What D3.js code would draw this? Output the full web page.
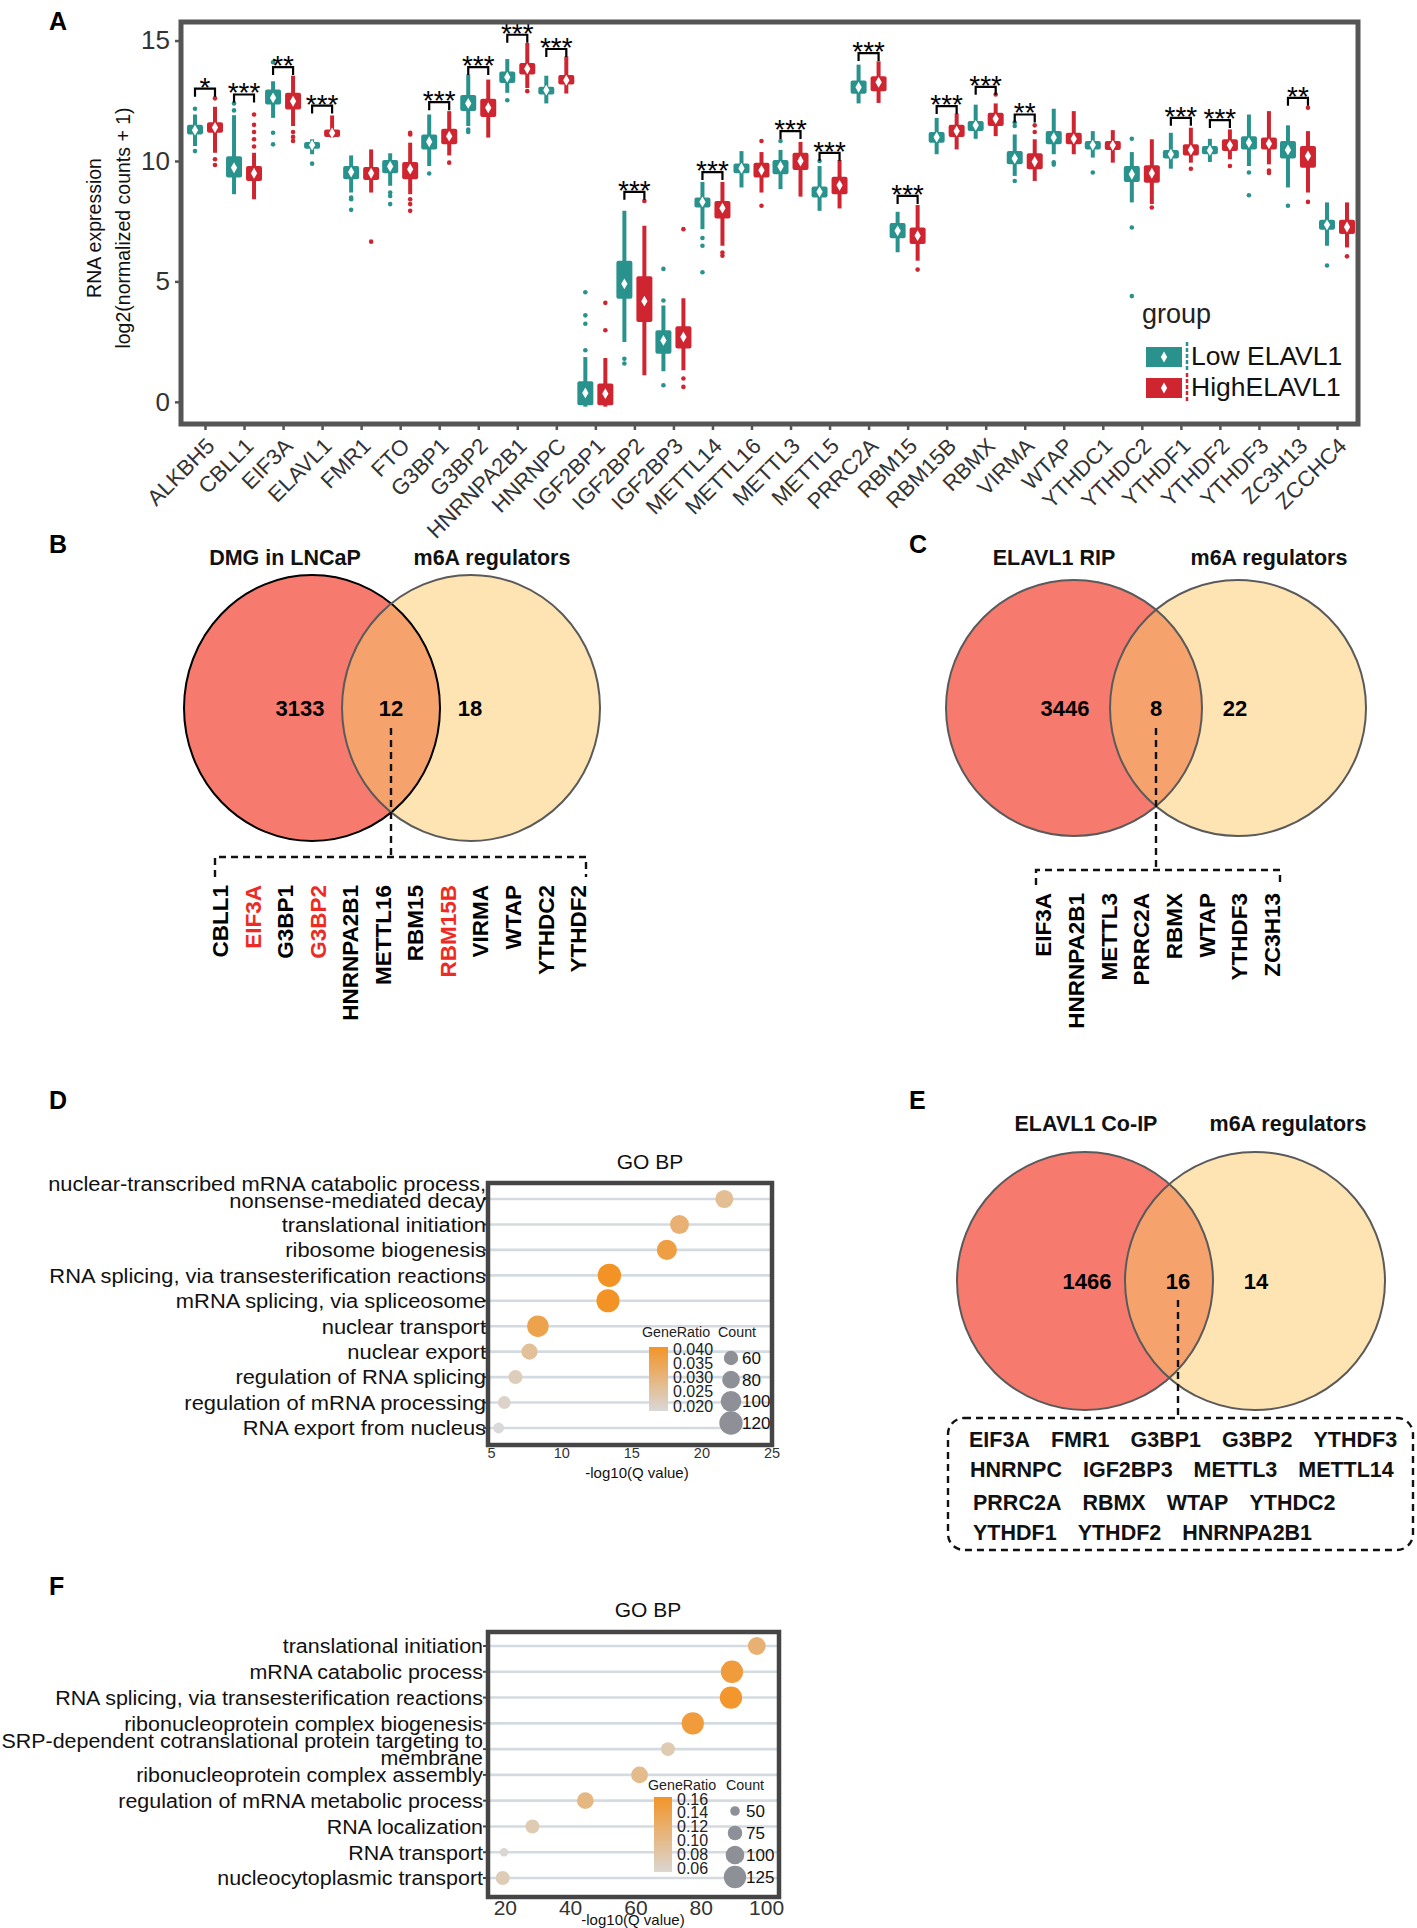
<!DOCTYPE html>
<html><head><meta charset="utf-8">
<script src="https://cdn.jsdelivr.net/npm/d3@7/dist/d3.min.js"></script>
<style>html,body{margin:0;padding:0;background:#fff}svg{display:block}</style>
</head><body>
<svg id="fig" width="1417" height="1928" xmlns="http://www.w3.org/2000/svg"></svg>
<script>
const FONT='"Liberation Sans", Arial, Helvetica, sans-serif';

// ================= Panel A data =================
const genes=["ALKBH5","CBLL1","EIF3A","ELAVL1","FMR1","FTO","G3BP1","G3BP2","HNRNPA2B1","HNRNPC","IGF2BP1","IGF2BP2","IGF2BP3","METTL14","METTL16","METTL3","METTL5","PRRC2A","RBM15","RBM15B","RBMX","VIRMA","WTAP","YTHDC1","YTHDC2","YTHDF1","YTHDF2","YTHDF3","ZC3H13","ZCCHC4"];
const groupNames=["Low ELAVL1","HighELAVL1"];
// [lower whisker, Q1, median, Q3, upper whisker]
const lowStats=[[10.62,11.10,11.28,11.50,11.93],[8.62,9.31,9.72,10.20,11.90],[11.79,12.34,12.62,12.97,13.31],[10.28,10.51,10.66,10.79,10.90],[8.69,9.24,9.54,9.79,10.23],[8.97,9.49,9.77,10.04,10.32],[9.79,10.48,10.80,11.10,11.93],[11.45,12.07,12.39,12.74,13.59],[12.83,13.24,13.48,13.72,14.23],[12.39,12.76,12.94,13.08,13.54],[-0.20,-0.14,0.37,0.86,1.86],[2.48,4.28,4.90,5.86,7.93],[1.27,2.00,2.55,2.97,4.00],[7.17,8.07,8.30,8.48,9.13],[8.90,9.49,9.70,9.90,10.41],[8.83,9.45,9.77,10.04,10.46],[7.93,8.48,8.72,8.94,9.79],[12.39,12.79,13.06,13.34,14.00],[6.21,6.79,7.10,7.42,7.89],[10.28,10.76,10.99,11.20,11.79],[10.92,11.24,11.48,11.66,12.34],[9.38,9.86,10.10,10.41,11.10],[10.28,10.69,10.97,11.24,12.17],[10.14,10.48,10.66,10.83,11.24],[8.28,9.13,9.45,9.79,10.37],[9.68,10.10,10.28,10.46,11.17],[9.96,10.28,10.44,10.62,10.92],[9.79,10.48,10.76,11.03,11.93],[8.90,10.10,10.46,10.83,11.48],[6.48,7.14,7.35,7.56,8.28]];
const highStats=[[10.34,11.17,11.39,11.61,12.25],[8.41,9.17,9.49,9.79,10.34],[11.45,12.14,12.48,12.83,13.54],[10.97,11.00,11.16,11.31,11.89],[8.69,9.21,9.49,9.75,10.48],[8.62,9.24,9.66,9.96,10.76],[10.23,10.69,11.03,11.34,12.07],[10.97,11.83,12.21,12.58,13.38],[13.03,13.59,13.83,14.07,14.90],[12.80,13.17,13.35,13.57,14.34],[-0.20,-0.14,0.34,0.76,1.82],[1.10,3.31,4.18,5.21,7.31],[1.31,2.21,2.69,3.14,4.30],[6.48,7.61,8.04,8.34,9.13],[8.69,9.31,9.61,9.93,10.37],[8.52,9.63,10.00,10.34,10.79],[8.03,8.62,8.99,9.35,10.04],[12.41,12.90,13.27,13.52,14.14],[5.86,6.55,6.90,7.24,8.17],[10.48,11.00,11.24,11.50,11.97],[11.03,11.45,11.75,12.00,12.39],[9.17,9.66,9.97,10.32,10.90],[10.28,10.69,10.92,11.17,12.07],[9.93,10.46,10.65,10.83,11.28],[8.21,9.10,9.49,9.82,10.90],[9.93,10.23,10.46,10.69,11.38],[10.07,10.41,10.65,10.90,11.31],[9.86,10.48,10.72,10.97,12.07],[8.69,9.72,10.21,10.62,11.24],[6.41,6.97,7.26,7.56,8.28]];
const lowOutliers=[[12.17,10.41],[12.1,12.39],[14.1,11.17,10.69],[9.89],[8.48,8.41,7.97],[8.69,8.55,8.21],[9.48],[11.3,11.2],[12.52],[],[2.14,3.24,3.59,4.55],[1.79,1.59],[4.21,5.52,0.69],[6.8,6.48,5.38],[],[10.83],[10.0],[],[],[],[],[11.45,11.6,9.17],[9.95,9.85],[9.52],[10.92,7.24,4.39],[],[],[9.52,8.58],[8.14],[5.66]];
const highOutliers=[[12.6,10.07,9.83],[10.6,10.9,11.2,11.5,11.93],[11.2,11.0,10.83],[],[6.65],[11.1,11.17,8.41,8.21,7.93],[9.93],[],[12.9],[],[2.97,4.11],[8.34],[7.17,0.97,0.62],[6.2,6.07],[10.83,8.14],[],[],[],[5.49],[],[12.76],[11.2,11.48],[],[],[8.07],[9.68],[9.79],[9.6,9.5],[12.21,8.3],[6.04]];
const sigLabels=["*","***","**","***","","","***","***","***","***","","***","","***","","***","***","***","***","***","***","**","","","","***","***","","**",""];
const sigLevels=[13.0,12.76,13.9,12.3,null,null,12.44,13.9,15.24,14.65,null,8.72,null,9.54,null,11.24,10.34,14.48,8.55,12.28,13.08,11.93,null,null,null,11.79,11.7,null,12.62,null];
const yTicksA=[0,5,10,15];

// ================= Venn data =================
const vennBSets=["DMG in LNCaP","m6A regulators"];
const vennBCounts=[3133,12,18];
const vennBGenes=["CBLL1","EIF3A","G3BP1","G3BP2","HNRNPA2B1","METTL16","RBM15","RBM15B","VIRMA","WTAP","YTHDC2","YTHDF2"];
const vennBHighlight=["EIF3A","G3BP2","RBM15B"];
const vennCSets=["ELAVL1 RIP","m6A regulators"];
const vennCCounts=[3446,8,22];
const vennCGenes=["EIF3A","HNRNPA2B1","METTL3","PRRC2A","RBMX","WTAP","YTHDF3","ZC3H13"];
const vennESets=["ELAVL1 Co-IP","m6A regulators"];
const vennECounts=[1466,16,14];
const vennEGeneRows=[["EIF3A","FMR1","G3BP1","G3BP2","YTHDF3"],["HNRNPC","IGF2BP3","METTL3","METTL14"],["PRRC2A","RBMX","WTAP","YTHDC2"],["YTHDF1","YTHDF2","HNRNPA2B1"]];

// ================= GO data =================
const goTermsD=["nuclear-transcribed mRNA catabolic process,\nnonsense-mediated decay","translational initiation","ribosome biogenesis","RNA splicing, via transesterification reactions","mRNA splicing, via spliceosome","nuclear transport","nuclear export","regulation of RNA splicing","regulation of mRNA processing","RNA export from nucleus"];
const goQD=[21.6,18.4,17.5,13.4,13.3,8.3,7.7,6.7,5.9,5.5];
const goRatioD=[0.027,0.031,0.037,0.041,0.041,0.036,0.026,0.022,0.020,0.018];
const goCountD=[82,88,96,120,118,106,70,58,52,42];
const ratioTicksD=[0.020,0.025,0.030,0.035,0.040];
const countTicksD=[60,80,100,120];
const xTicksD=[5,10,15,20,25];

const goTermsF=["translational initiation","mRNA catabolic process","RNA splicing, via transesterification reactions","ribonucleoprotein complex biogenesis","SRP-dependent cotranslational protein targeting to\nmembrane","ribonucleoprotein complex assembly","regulation of mRNA metabolic process","RNA localization","RNA transport","nucleocytoplasmic transport"];
const goQF=[97.0,89.4,89.1,77.4,69.8,61.1,44.5,28.3,19.6,19.2];
const goRatioF=[0.115,0.150,0.160,0.150,0.075,0.100,0.105,0.075,0.055,0.072];
const goCountF=[95,125,125,125,72,88,88,72,45,72];
const ratioTicksF=[0.06,0.08,0.10,0.12,0.14,0.16];
const countTicksF=[50,75,100,125];
const xTicksF=[20,40,60,80,100];

// =================================================
const svg=d3.select("#fig");
const defs=svg.append("defs");
function txt(g,x,y,s,size,opt={}){
  const t=g.append("text").attr("x",x).attr("y",y).text(s)
    .attr("font-family",FONT).attr("font-size",size)
    .attr("fill",opt.fill||"#000").attr("text-anchor",opt.anchor||"start")
    .attr("font-weight",opt.bold?"bold":"normal");
  return t;
}
// panel letters
[["A",49,30],["B",49,553],["C",909,553],["D",49,1109],["E",909,1109],["F",49,1595]].forEach(d=>txt(svg,d[1],d[2],d[0],25,{bold:true}));

// ================= Panel A =================
(function(){
  const L=181,R=1358,T=22,B=424;
  const y=d3.scaleLinear().domain([-0.92,15.77]).range([B,T]);
  const x=d3.scalePoint().domain(genes).range([205,1337]);
  const cols=["#2A928D","#CF2530"];
  const g=svg.append("g");
  const ya=g.append("g").attr("transform",`translate(${L},0)`).call(d3.axisLeft(y).tickValues(yTicksA).tickSize(6).tickPadding(5));
  ya.select(".domain").remove();
  ya.selectAll("line").attr("stroke","#555").attr("stroke-width",2.5);
  ya.selectAll("text").attr("font-size",26).attr("fill","#333").attr("font-family",FONT);
  const xa=g.append("g").attr("transform",`translate(0,${B})`).call(d3.axisBottom(x).tickSize(6));
  xa.select(".domain").remove();
  xa.selectAll("line").attr("stroke","#555").attr("stroke-width",2.5);
  xa.selectAll("text").attr("font-size",22).attr("fill","#333").attr("font-family",FONT)
    .attr("text-anchor","end").attr("x",0).attr("y",0).attr("dy","0.35em")
    .attr("transform","translate(5,18) rotate(-45)");
  // y title
  const yt=g.append("g").attr("transform",`translate(101,228) rotate(-90)`);
  txt(yt,0,0,"RNA expression",19.5,{anchor:"middle",fill:"#111"});
  txt(yt,0,29,"log2(normalized counts + 1)",19.5,{anchor:"middle",fill:"#111"});

  const diamond=d3.symbol().type(d3.symbolDiamond).size(34);
  const off=[-10,10];
  [lowStats,highStats].forEach((stats,gi)=>{
    const outs=gi?highOutliers:lowOutliers;
    const gg=g.append("g");
    genes.forEach((gene,i)=>{
      const s=stats[i], cx=x(gene)+off[gi];
      gg.append("line").attr("x1",cx).attr("x2",cx).attr("y1",y(s[0])).attr("y2",y(s[4]))
        .attr("stroke",cols[gi]).attr("stroke-width",4);
      gg.append("rect").attr("x",cx-8).attr("width",16).attr("y",y(s[3])).attr("height",Math.max(4,y(s[1])-y(s[3])))
        .attr("fill",cols[gi]).attr("rx",2);
      outs[i].forEach(v=>gg.append("circle").attr("cx",cx).attr("cy",y(v)).attr("r",2.3).attr("fill",cols[gi]));
      gg.append("path").attr("d",diamond).attr("transform",`translate(${cx},${y(s[2])})`).attr("fill","#fff");
    });
  });
  // significance brackets
  genes.forEach((gene,i)=>{
    if(sigLevels[i]==null) return;
    const yy=y(sigLevels[i]), x0=x(gene)+off[0], x1=x(gene)+off[1];
    g.append("path").attr("d",`M${x0},${yy+8}V${yy}H${x1}V${yy+8}`).attr("fill","none").attr("stroke","#000").attr("stroke-width",2.2);
    txt(g,x(gene),yy+8,sigLabels[i],28,{anchor:"middle"});
  });
  // frame
  g.append("rect").attr("x",L).attr("y",T).attr("width",R-L).attr("height",B-T).attr("fill","none").attr("stroke","#555").attr("stroke-width",5);
  // legend
  txt(g,1142,323,"group",27,{fill:"#222"});
  groupNames.forEach((n,i)=>{
    const ky=357+i*31;
    g.append("rect").attr("x",1146).attr("y",ky-10).attr("width",36).attr("height",20).attr("fill",cols[i]);
    g.append("line").attr("x1",1187).attr("x2",1187).attr("y1",ky-15).attr("y2",ky+15).attr("stroke",cols[i]).attr("stroke-width",2.5).attr("stroke-dasharray","4,2");
    g.append("path").attr("d",diamond).attr("transform",`translate(1164,${ky})`).attr("fill","#fff");
    txt(g,1191,ky+8,n,26.5,{fill:"#111"});
  });
})();

// ================= Venn =================
function venn(cfg){
  const g=svg.append("g");
  const [a,b]=cfg.circles;
  const cid="clip"+cfg.id;
  defs.append("clipPath").attr("id",cid).append("ellipse").attr("cx",a.cx).attr("cy",a.cy).attr("rx",a.rx).attr("ry",a.ry);
  g.append("ellipse").attr("cx",a.cx).attr("cy",a.cy).attr("rx",a.rx).attr("ry",a.ry).attr("fill","#F67B6E");
  g.append("ellipse").attr("cx",b.cx).attr("cy",b.cy).attr("rx",b.rx).attr("ry",b.ry).attr("fill","#FEE3B3");
  g.append("ellipse").attr("cx",b.cx).attr("cy",b.cy).attr("rx",b.rx).attr("ry",b.ry).attr("fill","#F6A26C").attr("clip-path",`url(#${cid})`);
  g.append("ellipse").attr("cx",a.cx).attr("cy",a.cy).attr("rx",a.rx).attr("ry",a.ry).attr("fill","none").attr("stroke",cfg.strokeA).attr("stroke-width",2);
  g.append("ellipse").attr("cx",b.cx).attr("cy",b.cy).attr("rx",b.rx).attr("ry",b.ry).attr("fill","none").attr("stroke","#5a5a5a").attr("stroke-width",2);
  cfg.countX.forEach((cx,i)=>txt(g,cx,cfg.countY+8,cfg.counts[i],22,{bold:true,anchor:"middle"}));
  cfg.titleX.forEach((tx,i)=>txt(g,tx,cfg.titleY+8,cfg.sets[i],21.5,{bold:true,anchor:"middle",fill:"#111"}));
  return g;
}
function dashed(g,d){g.append("path").attr("d",d).attr("fill","none").attr("stroke","#111").attr("stroke-width",2.4).attr("stroke-dasharray","7,5");}

// B
(function(){
  const g=venn({id:"B",circles:[{cx:312,cy:708,rx:128,ry:133},{cx:471,cy:708,rx:129,ry:133}],strokeA:"#000",
    counts:vennBCounts,countX:[300,391,470],countY:708,sets:vennBSets,titleX:[285,492],titleY:557});
  dashed(g,"M391,728V857");
  dashed(g,"M215,877V857H586V877");
  const gx=d3.scalePoint().domain(vennBGenes).range([220,578]);
  vennBGenes.forEach(n=>{
    g.append("text").attr("transform",`translate(${gx(n)},885) rotate(-90)`).attr("dy","0.36em")
      .attr("text-anchor","end").attr("font-family",FONT).attr("font-weight","bold").attr("font-size",22.5)
      .attr("fill",vennBHighlight.includes(n)?"#EE2A24":"#000").text(n);
  });
})();
// C
(function(){
  const g=venn({id:"C",circles:[{cx:1074,cy:708,rx:128,ry:128},{cx:1238,cy:708,rx:128,ry:128}],strokeA:"#5a5a5a",
    counts:vennCCounts,countX:[1065,1156,1235],countY:708,sets:vennCSets,titleX:[1054,1269],titleY:557});
  dashed(g,"M1156,728V870");
  dashed(g,"M1036,885V870H1280V885");
  const gx=d3.scalePoint().domain(vennCGenes).range([1043,1272]);
  vennCGenes.forEach(n=>{
    g.append("text").attr("transform",`translate(${gx(n)},893) rotate(-90)`).attr("dy","0.36em")
      .attr("text-anchor","end").attr("font-family",FONT).attr("font-weight","bold").attr("font-size",22.5)
      .attr("fill","#000").text(n);
  });
})();
// E
(function(){
  const g=venn({id:"E",circles:[{cx:1085,cy:1281,rx:128,ry:129},{cx:1255,cy:1281,rx:130,ry:129}],strokeA:"#5a5a5a",
    counts:vennECounts,countX:[1087,1178,1256],countY:1281,sets:vennESets,titleX:[1086,1288],titleY:1123});
  dashed(g,"M1178,1300V1418");
  g.append("rect").attr("x",948).attr("y",1418).attr("width",465).attr("height",132).attr("rx",16)
    .attr("fill","none").attr("stroke","#111").attr("stroke-width",2.4).attr("stroke-dasharray","7,5");
  const rowY=[1447,1477,1510,1540], rowX=[969,970,973,973];
  vennEGeneRows.forEach((row,ri)=>{
    let cx=rowX[ri];
    row.forEach(n=>{
      const t=txt(g,cx,rowY[ri],n,21.5,{bold:true,fill:"#111"});
      cx+=t.node().getComputedTextLength()+21;
    });
  });
})();

// ================= GO plots =================
function goPlot(c){
  const g=svg.append("g");
  const x=d3.scaleLinear().domain(c.xDomain).range([c.x0,c.x1]);
  const y=d3.scalePoint().domain(d3.range(c.terms.length)).range([c.r0,c.r1]);
  const col=d3.scaleLinear().domain(c.ratioDomain).range(["#D9D9D9","#F39325"]).clamp(true);
  const rad=d3.scaleSqrt().domain(c.countDomain).range(c.rRange);
  txt(g,c.titleX,c.titleY,"GO BP",21,{anchor:"middle",fill:"#111"});
  c.terms.forEach((t,i)=>g.append("line").attr("x1",c.x0).attr("x2",c.x1).attr("y1",y(i)).attr("y2",y(i)).attr("stroke","#D3DBE0").attr("stroke-width",2.6));
  c.terms.forEach((t,i)=>g.append("circle").attr("cx",x(c.q[i])).attr("cy",y(i)).attr("r",rad(c.count[i])).attr("fill",col(c.ratio[i])));
  // legend
  txt(g,c.lg.grX,c.lg.titleY,"GeneRatio",15.5,{fill:"#222"}).attr("transform",`translate(${c.lg.grX*0.08},0) scale(0.92,1)`);
  txt(g,c.lg.cX,c.lg.titleY,"Count",15.5,{fill:"#222"}).attr("transform",`translate(${c.lg.cX*0.08},0) scale(0.92,1)`);
  const by=d3.scaleLinear().domain(c.lg.barDomain).range([c.lg.barY1,c.lg.barY0]);
  const gid="grad"+c.id;
  const grad=defs.append("linearGradient").attr("id",gid).attr("x1",0).attr("x2",0).attr("y1",1).attr("y2",0);
  d3.range(0,1.0001,0.1).forEach(t=>{const v=c.lg.barDomain[0]+t*(c.lg.barDomain[1]-c.lg.barDomain[0]);grad.append("stop").attr("offset",t).attr("stop-color",col(v));});
  g.append("rect").attr("x",c.lg.barX).attr("y",c.lg.barY0).attr("width",c.lg.barW).attr("height",c.lg.barY1-c.lg.barY0).attr("fill",`url(#${gid})`);
  c.ratioTicks.forEach(v=>txt(g,c.lg.barX+c.lg.barW+5,by(v)+5.5,d3.format(c.lg.fmt)(v),16,{fill:"#222"}));
  const cy=d3.scalePoint().domain(c.countTicks).range(c.lg.cRange);
  c.countTicks.forEach(v=>{
    g.append("circle").attr("cx",c.lg.cCx).attr("cy",cy(v)).attr("r",rad(v)).attr("fill","#8E9098");
    txt(g,c.lg.cCx+11,cy(v)+6,v,17,{fill:"#111"});
  });
  g.append("rect").attr("x",c.x0).attr("y",c.y0).attr("width",c.x1-c.x0).attr("height",c.y1-c.y0).attr("fill","none").attr("stroke","#454545").attr("stroke-width",4.5);
  c.terms.forEach((t,i)=>g.append("line").attr("x1",c.x0-5).attr("x2",c.x0).attr("y1",y(i)).attr("y2",y(i)).attr("stroke","#454545").attr("stroke-width",2));
  c.xTicks.forEach(v=>txt(g,x(v),c.xtY,v,c.xtSize,{anchor:"middle",fill:"#333"}));
  txt(g,c.xtitleX,c.xtitleY,"-log10(Q value)",15,{anchor:"middle",fill:"#111"});
  const probe=txt(g,0,-100,c.refLabel,c.labSize);
  const sc=c.refWidth/probe.node().getComputedTextLength();
  probe.remove();
  c.terms.forEach((t,i)=>{
    const lines=t.split("\n");
    lines.forEach((ln,k)=>{
      const yy=y(i)+(lines.length>1?c.l2[k]:0)+c.labSize*0.35;
      g.append("text").attr("transform",`translate(${c.labX},${yy}) scale(${sc},1)`)
        .attr("text-anchor","end").attr("font-family",FONT).attr("font-size",c.labSize).attr("fill","#111").text(ln);
    });
  });
}
goPlot({id:"D",terms:goTermsD,q:goQD,ratio:goRatioD,count:goCountD,ratioTicks:ratioTicksD,countTicks:countTicksD,xTicks:xTicksD,
  xDomain:[4.74,25],x0:488,x1:772,y0:1183,y1:1445,r0:1199,r1:1428,ratioDomain:[0.018,0.041],countDomain:[30,125],rRange:[4,12],
  titleX:650,titleY:1169,xtY:1458,xtSize:14.5,xtitleX:637,xtitleY:1478,labX:486,labSize:21,refLabel:"RNA splicing, via transesterification reactions",refWidth:437,l2:[-15,2],
  lg:{grX:642,cX:718,titleY:1337,barX:649,barW:19,barY0:1347,barY1:1411,barDomain:[0.0183,0.0407],fmt:".3f",cCx:731,cRange:[1358,1423]}});
goPlot({id:"F",terms:goTermsF,q:goQF,ratio:goRatioF,count:goCountF,ratioTicks:ratioTicksF,countTicks:countTicksF,xTicks:xTicksF,
  xDomain:[14.7,103.8],x0:488,x1:779,y0:1632,y1:1897,r0:1646,r1:1878,ratioDomain:[0.05,0.165],countDomain:[35,130],rRange:[3,11.5],
  titleX:648,titleY:1617,xtY:1915,xtSize:21,xtitleX:633,xtitleY:1925,labX:483,labSize:21,refLabel:"RNA splicing, via transesterification reactions",refWidth:428,l2:[-8,9],
  lg:{grX:648,cX:726,titleY:1790,barX:654,barW:18,barY0:1797,barY1:1872,barDomain:[0.055,0.163],fmt:".2f",cCx:735,cRange:[1811,1877]}});
</script>
</body></html>
